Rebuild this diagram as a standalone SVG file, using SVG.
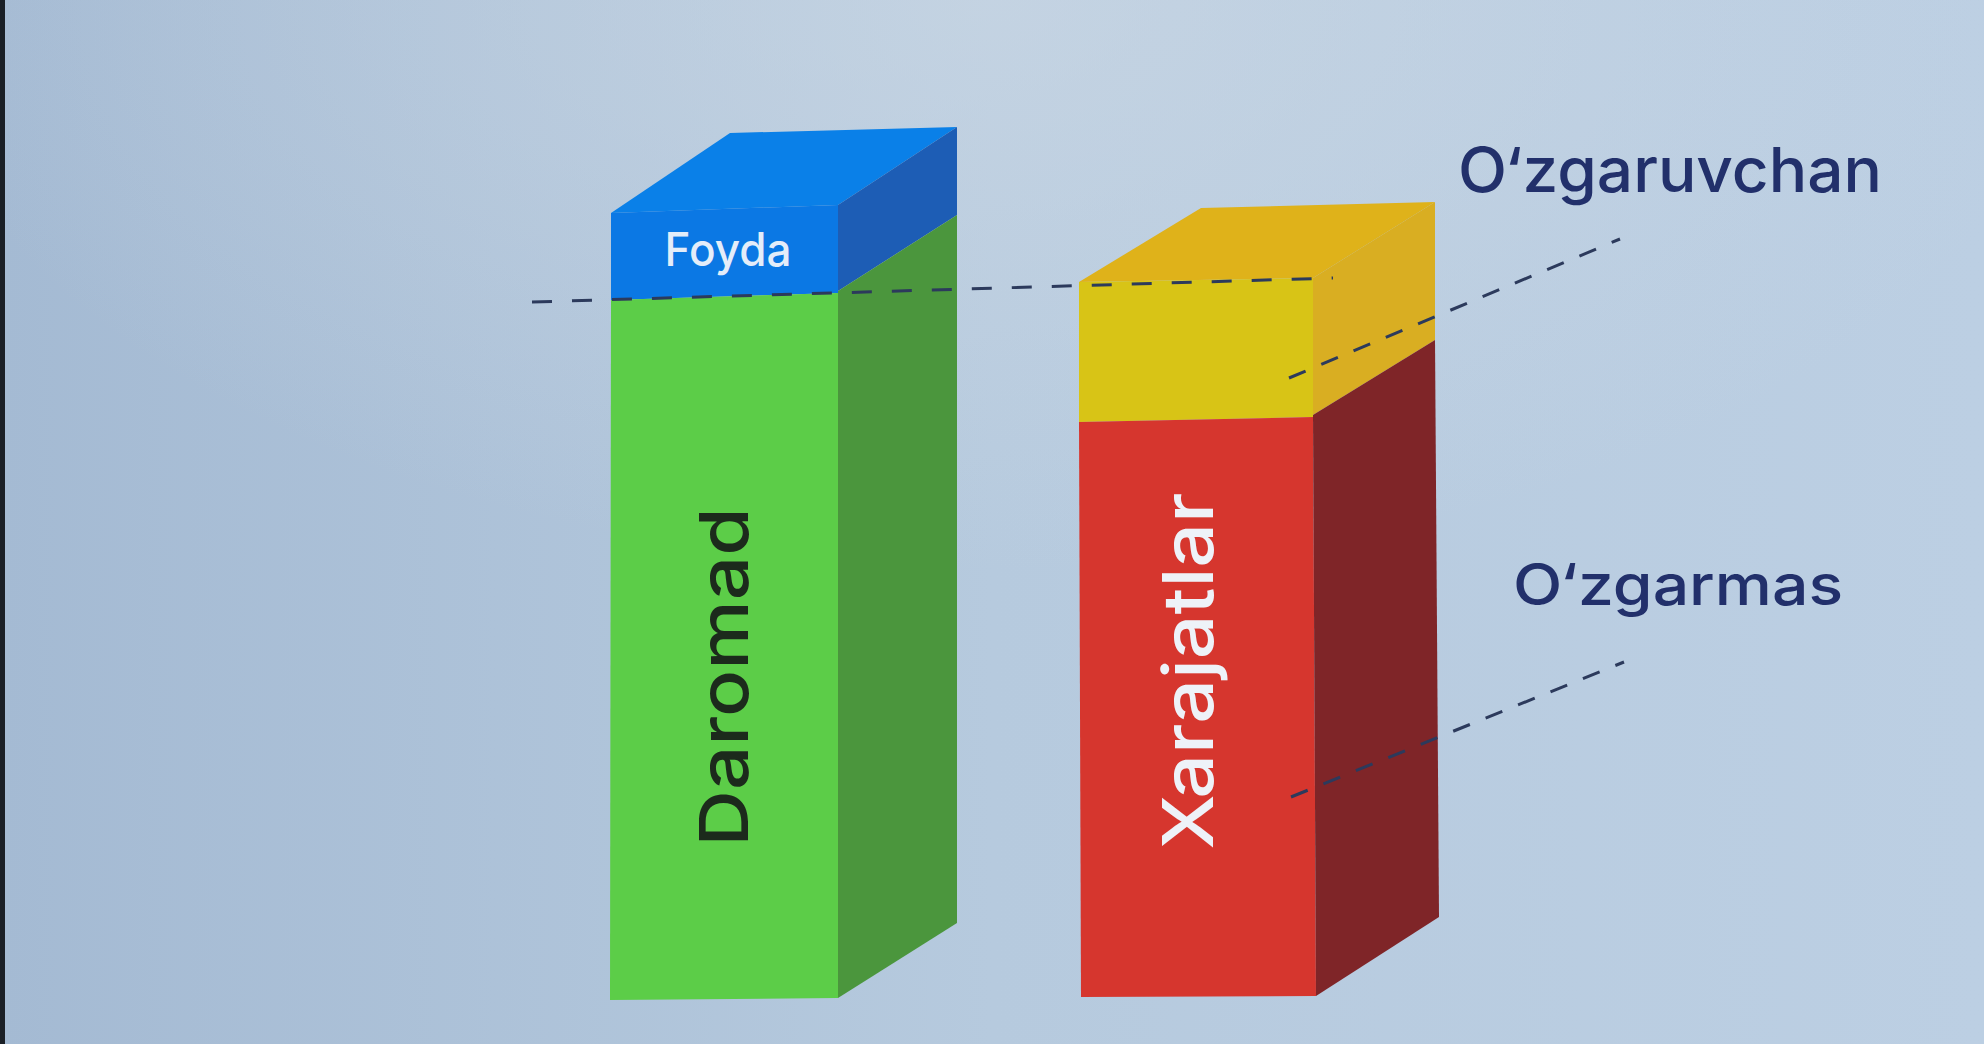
<svg xmlns="http://www.w3.org/2000/svg" width="1984" height="1044" viewBox="0 0 1984 1044">
  <defs>
    <linearGradient id="bg" x1="0" y1="0" x2="1" y2="0">
      <stop offset="0" stop-color="#a4bad3"/>
      <stop offset="0.5" stop-color="#b6cade"/>
      <stop offset="1" stop-color="#bccfe3"/>
    </linearGradient>
    <radialGradient id="glow" cx="0.5" cy="0.0" r="0.55">
      <stop offset="0" stop-color="#cdd9e5" stop-opacity="0.6"/>
      <stop offset="1" stop-color="#cdd9e5" stop-opacity="0"/>
    </radialGradient>
    <style>
      .lbl { font-family: Inter, "Open Sans", "Liberation Sans", sans-serif; font-weight: 500; }
      .side { fill: #22306b; }
      .dash { fill: none; stroke: #2c3a5c; stroke-width: 3; stroke-dasharray: 20 20; }
      .dash2 { fill: none; stroke: #2c3a5c; stroke-width: 3; stroke-dasharray: 18 17; }
    </style>
  </defs>

  <rect x="0" y="0" width="1984" height="1044" fill="url(#bg)"/>
  <rect x="0" y="0" width="1984" height="1044" fill="url(#glow)"/>
  <rect x="0" y="0" width="5" height="1044" fill="#1a1f26"/>

  <g id="daromad">
    <polygon points="611,213 730,133 957,127 838,205" fill="#0a80e8"/>
    <polygon points="611,213 838,205 838,293 611,300" fill="#0b78e4"/>
    <polygon points="838,205 957,127 957,215 838,291" fill="#1d5db5"/>
    <polygon points="611,300 838,293 838,998 610,1000" fill="#5ccd48"/>
    <polygon points="838,291 957,215 957,923 838,998" fill="#4b963d"/>
    <text class="lbl" x="728" y="266" text-anchor="middle" font-size="46" fill="#e4edf9" textLength="127" lengthAdjust="spacingAndGlyphs">Foyda</text>
    <text class="lbl" transform="translate(748,677) rotate(-90)" text-anchor="middle" font-size="68" fill="#1c2a1c" textLength="339" lengthAdjust="spacingAndGlyphs">Daromad</text>
  </g>

  <g id="xarajatlar">
    <polygon points="1079,282 1201,208 1435,202 1313,278" fill="#dfb21a"/>
    <polygon points="1079,282 1313,278 1313,417 1079,422" fill="#d8c416"/>
    <polygon points="1313,278 1435,202 1435,340 1313,415" fill="#d9ae22"/>
    <polygon points="1079,422 1313,417 1316,996 1081,997" fill="#d6362e"/>
    <polygon points="1313,415 1435,340 1439,917 1316,996" fill="#7f2528"/>
    <text class="lbl" transform="translate(1213,671) rotate(-90)" text-anchor="middle" font-size="70" fill="#eef2f8" textLength="357" lengthAdjust="spacingAndGlyphs">Xarajatlar</text>
  </g>

  <g id="ozgaruvchan">
    <text class="lbl side" x="1458" y="192" textLength="424" lengthAdjust="spacingAndGlyphs" font-size="62">O‘zgaruvchan</text>
  </g>
  <g id="ozgarmas">
    <text class="lbl side" x="1513" y="605" textLength="330" lengthAdjust="spacingAndGlyphs" font-size="57">O‘zgarmas</text>
  </g>

  <g id="connectors">
    <line class="dash" x1="532" y1="302" x2="1333" y2="278"/>
    <line class="dash2" x1="1289" y1="378" x2="1620" y2="239"/>
    <line class="dash2" x1="1291" y1="797" x2="1624" y2="662"/>
  </g>
</svg>
